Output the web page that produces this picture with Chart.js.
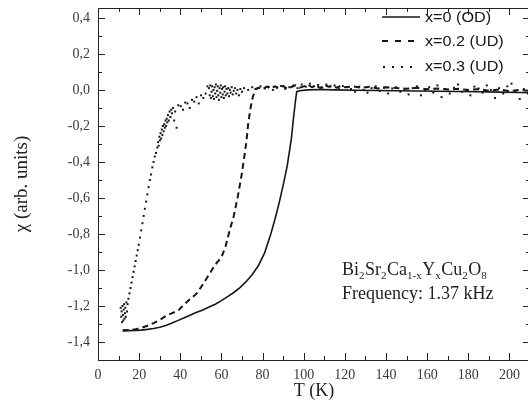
<!DOCTYPE html>
<html>
<head>
<meta charset="utf-8">
<script src="https://cdn.jsdelivr.net/npm/chart.js@4"></script>
<style>
  html, body { margin: 0; padding: 0; background: #fff; overflow: hidden; }
  #wrap { position: relative; width: 534px; height: 412px; }
</style>
</head>
<body>
<div id="wrap"><canvas id="chart"></canvas></div>
<script>
// tick labels
const xTicks = [0, 20, 40, 60, 80, 100, 120, 140, 160, 180, 200];
const yTicks = [0.4, 0.2, 0.0, -0.2, -0.4, -0.6, -0.8, -1.0, -1.2, -1.4];

// x=0 (OD), solid
const t0 = [12, 15, 18, 21, 24, 27, 30, 33, 36, 39,
  42, 45, 48, 51, 54, 57, 60, 63, 66, 69,
  72, 75, 78, 81, 84, 86, 88, 90, 92, 94,
  95, 96, 96.6, 98, 102, 108, 115, 125, 135, 145,
  155, 165, 175, 185, 195, 205, 210];
const chi0 = [-1.338, -1.337, -1.336, -1.334, -1.33, -1.325, -1.318, -1.308, -1.295, -1.28,
  -1.265, -1.25, -1.235, -1.222, -1.206, -1.19, -1.17, -1.148, -1.125, -1.098,
  -1.065, -1.025, -0.975, -0.905, -0.80, -0.72, -0.63, -0.53, -0.42, -0.27,
  -0.16, -0.06, -0.01, -0.005, 0.0, 0.002, 0.0, -0.002, -0.003, -0.005,
  -0.006, -0.007, -0.009, -0.01, -0.012, -0.014, -0.015];

// x=0.2 (UD), dashed
const t2 = [12, 15, 18, 21, 24, 27, 30, 33, 36, 39,
  42, 45, 48, 51, 54, 57, 60, 62, 64, 66,
  68, 70, 72, 73, 74, 75, 76.5,
  78, 80, 82, 84, 86, 88, 90, 92, 94, 96,
  98, 100, 102, 104, 106, 108, 110, 112, 114, 116,
  118, 120, 124, 128, 132, 136, 140, 145, 150, 155,
  160, 165, 170, 175, 180, 185, 190, 195, 200, 205,
  210];
const chi2 = [-1.335, -1.333, -1.33, -1.322, -1.31, -1.295, -1.278, -1.255, -1.24, -1.225,
  -1.19, -1.16, -1.13, -1.08, -1.025, -0.97, -0.93, -0.87, -0.78, -0.70,
  -0.59, -0.46, -0.30, -0.19, -0.11, -0.05, 0.005,
  0.012, 0.005, 0.018, 0.008, 0.02, 0.01, 0.022, 0.006, 0.016, 0.025,
  0.012, 0.02, 0.03, 0.015, 0.025, 0.01, 0.028, 0.018, 0.022, 0.012,
  0.024, 0.015, 0.02, 0.012, 0.018, 0.008, 0.015, 0.01, 0.006, 0.012,
  0.004, 0.008, 0.002, 0.006, 0.0, 0.004, -0.004, 0.002, -0.006, 0.0,
  -0.005];

// x=0.3 (UD), dotted (scattered points)
const t3 = [11.0, 11.3, 11.5, 11.7, 11.9, 12.1, 12.3, 12.5, 12.7, 12.9, 13.1, 13.3, 13.5, 13.8, 14.1, 14.4, 14.8,
  15.3, 15.8, 16.3, 16.8, 17.3, 17.8, 18.3, 18.8, 19.3, 19.8, 20.4, 21.0, 21.6, 22.2, 22.8, 23.4, 24.0, 24.6, 25.2, 25.8, 26.4, 27.0, 27.6, 28.2, 28.8,
  29.2, 29.5, 29.8, 30.1, 30.4, 30.7, 31.0, 31.3, 31.6, 31.9, 32.2, 32.5, 32.8, 33.1, 33.4, 33.7, 34.0, 34.4, 34.8, 35.2, 35.6, 36.0, 36.5, 37.0, 37.5, 38.2,
  39, 40.2, 41.3, 42.4, 43.5, 44.6, 45.7, 46.8, 47.9, 49.0, 50.1, 51.2, 52.3, 53.2,
  54.0, 54.3, 54.6, 54.9, 55.2, 55.5, 55.8, 56.1, 56.4, 56.7, 57.0, 57.3, 57.6, 57.9, 58.2, 58.5, 58.8, 59.1, 59.4, 59.7,
  60.0, 60.3, 60.6, 60.9, 61.2, 61.5, 61.8, 62.1, 62.5, 62.9, 63.3, 63.7, 64.1, 64.5, 65.0, 65.5, 66.0, 66.6, 67.2, 67.8, 68.5, 69.2, 70.0,
  71, 73, 75, 77, 79, 81, 83, 85, 87, 89, 91, 93, 95, 97, 99, 101, 103, 105, 107, 109,
  111, 113, 115, 117, 119, 121, 123, 125, 127, 129, 131, 133, 135, 137, 139, 141, 143, 145, 147, 149,
  151, 153, 155, 157, 159, 161, 163, 165, 167, 169, 171, 173, 175, 177, 179, 181, 183, 185, 187, 189,
  191, 193, 195, 197, 199, 201, 203, 205, 207, 209];
const chi3 = [-1.21, -1.26, -1.23, -1.29, -1.20, -1.25, -1.28, -1.22, -1.19, -1.27, -1.24, -1.21, -1.26, -1.18, -1.23, -1.19, -1.16,
  -1.13, -1.10, -1.07, -1.04, -1.01, -0.98, -0.95, -0.92, -0.89, -0.86, -0.82, -0.78, -0.74, -0.70, -0.66, -0.62, -0.58, -0.54, -0.50, -0.47, -0.43, -0.40, -0.37, -0.35, -0.32,
  -0.29, -0.31, -0.26, -0.28, -0.24, -0.27, -0.22, -0.25, -0.20, -0.23, -0.19, -0.21, -0.17, -0.20, -0.16, -0.18, -0.14, -0.17, -0.12, -0.15, -0.11, -0.13, -0.10, -0.17, -0.12, -0.21,
  -0.085, -0.09, -0.11, -0.07, -0.075, -0.10, -0.055, -0.065, -0.04, -0.075, -0.03, -0.045, -0.02, 0.02,
  0.01, -0.03, 0.025, -0.045, -0.01, 0.02, -0.035, 0.0, -0.05, 0.015, -0.02, 0.03, -0.04, -0.005, 0.02, -0.03, -0.055, 0.01, -0.015, 0.025,
  -0.04, 0.005, -0.025, 0.015, -0.045, -0.01, 0.02, -0.03, 0.005, -0.02, 0.01, -0.035, 0.0, -0.015, 0.015, -0.025, -0.005, 0.01, -0.02, 0.0, -0.03, 0.005, -0.01,
  0.01, 0.0, 0.015, 0.005, 0.02, 0.008, 0.018, 0.0, 0.012, 0.022, 0.006, 0.015, 0.025, 0.01, 0.03, 0.018, 0.035, 0.02, 0.028, 0.012,
  0.03, 0.02, 0.025, 0.01, 0.022, 0.015, 0.005, -0.01, 0.018, 0.0, -0.015, 0.01, 0.02, -0.005, 0.012, -0.02, 0.008, 0.015, -0.01, 0.005,
  -0.025, 0.01, 0.02, -0.03, 0.0, 0.015, -0.015, 0.025, -0.04, 0.005, -0.02, 0.012, 0.03, -0.01, 0.0, -0.03, 0.018, 0.008, -0.015, 0.025,
  0.0, -0.045, 0.01, -0.02, 0.02, 0.035, -0.01, -0.05, 0.005, -0.02];

const pts = (t, c) => t.map((v, i) => ({ x: v, y: c[i] }));
const serif = "'Liberation Serif', 'DejaVu Serif', serif";
const sans = "'Liberation Sans', Arial, sans-serif";
const ink = "#161616";

// frame with inward ticks on all four sides
const frame = {
  id: "frame",
  afterDatasetsDraw(chart) {
    const { ctx, chartArea: a, scales: { x, y } } = chart;
    ctx.save();
    ctx.strokeStyle = "#222";
    ctx.lineWidth = 1;
    ctx.strokeRect(Math.round(a.left) + 0.5, Math.round(a.top) + 0.5, Math.round(a.right - a.left), Math.round(a.bottom - a.top));
    ctx.beginPath();
    for (let v = 0; v <= 210; v += 10) {
      const px = Math.round(x.getPixelForValue(v)) + 0.5;
      const len = v % 20 === 0 ? 7 : 4;
      ctx.moveTo(px, a.bottom); ctx.lineTo(px, a.bottom - len);
      ctx.moveTo(px, a.top); ctx.lineTo(px, a.top + len);
    }
    for (let k = -15; k <= 4; k++) {
      const py = Math.round(y.getPixelForValue(k / 10)) + 0.5;
      const len = k % 2 === 0 ? 7 : 4;
      ctx.moveTo(a.left, py); ctx.lineTo(a.left + len, py);
      ctx.moveTo(a.right, py); ctx.lineTo(a.right - len, py);
    }
    ctx.stroke();
    ctx.restore();
  },
  afterDraw(chart) {
    const { ctx } = chart;
    ctx.save();
    // legend, drawn inside the top right corner
    ctx.fillStyle = ink;
    ctx.strokeStyle = ink;
    ctx.textBaseline = "middle";
    const rows = [17, 41, 66];
    chart.data.datasets.forEach((ds, i) => {
      const yy = rows[i];
      if (i === 0) {
        ctx.lineWidth = 1.6;
        ctx.beginPath(); ctx.moveTo(382, yy); ctx.lineTo(420, yy); ctx.stroke();
      } else if (i === 1) {
        ctx.lineWidth = 2;
        ctx.setLineDash([6, 7]);
        ctx.beginPath(); ctx.moveTo(382, yy); ctx.lineTo(420, yy); ctx.stroke();
        ctx.setLineDash([]);
      } else {
        [384, 393, 402, 411].forEach(d => ctx.fillRect(d - 1, yy, 2, 2));
      }
      // slightly wide lettering as in the original
      ctx.save();
      ctx.translate(425, yy + 1);
      ctx.scale(1.08, 1);
      ctx.font = "15px " + sans;
      ctx.fillText(ds.label, 0, 0);
      ctx.restore();
    });
    // compound and frequency note
    ctx.textBaseline = "alphabetic";
    ctx.fillStyle = "#222";
    const parts = [["Bi", 0], ["2", 1], ["Sr", 0], ["2", 1], ["Ca", 0], ["1-x", 1], ["Y", 0], ["x", 1], ["Cu", 0], ["2", 1], ["O", 0], ["8", 1]];
    let cx = 342;
    parts.forEach(([s, sub]) => {
      ctx.font = (sub ? "11px " : "18px ") + serif;
      ctx.fillText(s, cx, sub ? 279 : 275);
      cx += ctx.measureText(s).width + (sub ? 0.5 : 0);
    });
    ctx.font = "18px " + serif;
    ctx.fillText("Frequency: 1.37 kHz", 342, 299);
    ctx.restore();
  }
};

new Chart(document.getElementById("chart"), {
  type: "scatter",
  data: {
    datasets: [
      { label: "x=0 (OD)", data: pts(t0, chi0), showLine: true, borderColor: ink, borderWidth: 1.6, pointRadius: 0, tension: 0 },
      { label: "x=0.2 (UD)", data: pts(t2, chi2), showLine: true, borderColor: ink, borderWidth: 2, borderDash: [6, 4], pointRadius: 0 },
      { label: "x=0.3 (UD)", data: pts(t3, chi3), showLine: false, backgroundColor: ink, borderWidth: 0, pointRadius: 1.4, pointStyle: "rect" }
    ]
  },
  options: {
    responsive: true,
    maintainAspectRatio: false,
    animation: false,
    layout: { padding: { top: 8, right: 4, left: 0, bottom: 0 } },
    plugins: { legend: { display: false }, tooltip: { enabled: false } },
    scales: {
      x: {
        type: "linear", min: 0, max: 210,
        afterBuildTicks: s => { s.ticks = xTicks.map(v => ({ value: v })); },
        afterFit: s => { s.height = 52; s.paddingLeft = 0; s.paddingRight = 0; },
        grid: { display: false, drawTicks: false },
        border: { display: false },
        ticks: { padding: 7, color: "#3a3a3a", font: { family: serif, size: 14 }, maxRotation: 0 },
        title: { display: true, text: "T (K)", color: "#222", font: { family: serif, size: 18 }, padding: { top: 0, bottom: 10 } }
      },
      y: {
        type: "linear", min: -1.5, max: 0.455,
        afterBuildTicks: s => { s.ticks = yTicks.map(v => ({ value: v })); },
        afterFit: s => { s.width = 98; s.paddingTop = 0; s.paddingBottom = 0; },
        grid: { display: false, drawTicks: false },
        border: { display: false },
        ticks: { padding: 8, color: "#3a3a3a", font: { family: serif, size: 14 }, callback: v => v.toFixed(1).replace(".", ",") },
        title: { display: true, text: "χ (arb. units)", color: "#222", font: { family: serif, size: 19 }, padding: { top: 11, bottom: 0 } }
      }
    }
  },
  plugins: [frame]
});
</script>
</body>
</html>
